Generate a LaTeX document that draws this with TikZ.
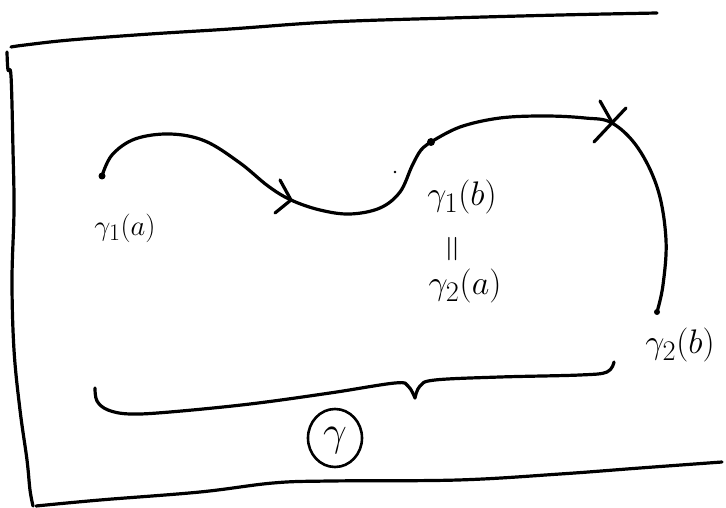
\documentclass[tikz,border=0pt]{standalone}
\usetikzlibrary{shapes.geometric}
\begin{document}
\begin{tikzpicture}[x=1pt,y=-1pt,
  ink/.style={line width=3.2pt,line cap=round,line join=round},
  thinink/.style={line width=2.6pt,line cap=round,line join=round},
  lbl/.style={inner sep=0pt,font=\Huge,scale=1.37,transform shape},
  lblsmall/.style={inner sep=0pt,font=\Huge,scale=1.15,transform shape},
  dotmark/.style={circle,fill=black,inner sep=0pt,minimum size=7pt}]
\useasboundingbox (0,0) rectangle (726,508);
% frame
\draw[ink] plot[smooth,tension=0.6] coordinates {(11,47) (25,45) (70,40) (150,34) (230,29) (330,22) (450,18) (560,15) (657,13)};
\draw[ink] plot[smooth,tension=0.6] coordinates {(7,52) (8,70) (11,76) (13,150) (14,210) (12,280) (14,350) (20,410) (27,460) (30,490) (33,506)};
\draw[ink] plot[smooth,tension=0.6] coordinates {(36,506) (100,500) (200,492) (273,483) (330,481) (458,480) (560,474) (640,468) (722,462)};
% endpoints
\node[dotmark] (A) at (102,176) {};
\node[dotmark,minimum size=8pt] (M) at (431,142) {};
\node[dotmark,minimum size=6pt] (B) at (657,312) {};
\coordinate (X) at (612,123);
% curve gamma_1
\draw[ink] plot[smooth,tension=0.6] coordinates {(102,176) (112,155) (135,139) (170,134) (205,141) (240,163) (268,186) (291,200) (320,210) (350,214) (380,208) (400,192) (412,166) (421,150) (431,142)};
% arrow chevron
\draw[ink] (280,180) -- (291,200) -- (275,213);
% curve gamma_2
\draw[ink] plot[smooth,tension=0.6] coordinates {(431,142) (460,127) (500,118) (545,116) (585,118) (612,123) (638,148) (658,190) (666,240) (663,285) (657,312)};
% cross mark
\draw[ink] (600,101) -- (613,124);
\draw[ink] (594,142) -- (626,108);
% stray dot
\fill (395,172) circle (1.3pt);
% labels
\node[lblsmall] (la) at (125,228) {$\gamma_1(a)$};
\node[lbl] (lb) at (462,197) {$\gamma_1(b)$};
\node[inner sep=0pt,font=\Huge,rotate=90,scale=1.5,transform shape] (eq) at (455,249) {$=$};
\node[lbl] (lc) at (465,286) {$\gamma_2(a)$};
\node[lbl] (ld) at (680,345) {$\gamma_2(b)$};
% brace
\draw[ink] plot[smooth,tension=0.6] coordinates {(95,388) (97,401) (108,410) (130,414) (170,412) (250,404) (330,393) (395,383) (408,386) (415,398)};
\draw[ink] plot[smooth,tension=0.6] coordinates {(415,398) (420,386) (435,380) (500,377) (580,375) (607,372) (614,362)};
% circled gamma
\node[ellipse,draw,thinink,minimum width=54pt,minimum height=58pt,inner sep=0pt] (g) at (335,438) {};
\node[inner sep=0pt,font=\Huge,scale=1.7,transform shape] (gt) at (335,441) {$\gamma$};
\end{tikzpicture}
\end{document}
